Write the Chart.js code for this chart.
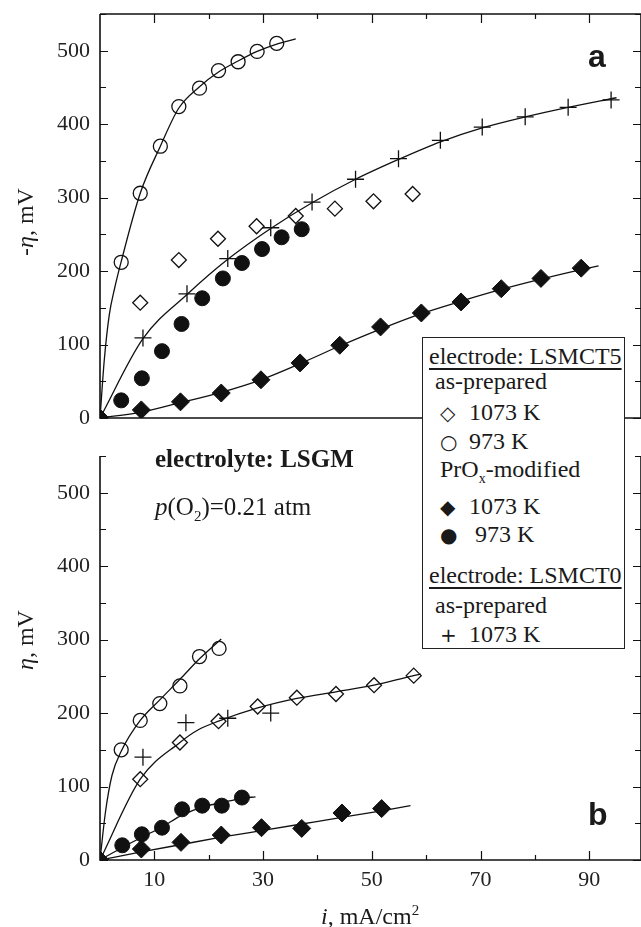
<!DOCTYPE html>
<html>
<head>
<meta charset="utf-8">
<script src="https://cdn.jsdelivr.net/npm/chart.js@4.4.0/dist/chart.umd.min.js"></script>
<style>
  body { margin: 0; background: #fff; }
  #page { position: relative; width: 641px; height: 927px; overflow: hidden; font-family: "Liberation Serif", "Times New Roman", serif; color: #1a1a1a; }
  canvas { position: absolute; left: 0; }
  .t { position: absolute; white-space: nowrap; line-height: 1; font-size: 24px; }
  .sym { font-family: "DejaVu Sans", sans-serif; font-size: 20px; display: inline-block; width: 29px; }
  .u { text-decoration: underline; text-decoration-thickness: 2px; text-underline-offset: 4px; }
  .lbl { position: absolute; font-family: "Liberation Sans", Arial, sans-serif; font-weight: bold; font-size: 32px; line-height: 1; }
  .ytitle { position: absolute; white-space: nowrap; font-size: 24px; line-height: 1; transform: translate(-50%, -50%) rotate(-90deg); }
  #legend { position: absolute; left: 422px; top: 337px; width: 203px; height: 312px; box-sizing: border-box; border: 1.5px solid #222; background: #fff; }
</style>
</head>
<body>
<div id="page">
  <canvas id="chartA" width="641" height="440" style="top:0"></canvas>
  <canvas id="chartB" width="641" height="487" style="top:440px"></canvas>

  <div class="lbl" style="left:588px; top:40px">a</div>
  <div class="lbl" style="left:588px; top:798px">b</div>

  <div class="ytitle" style="left:25px; top:222px">-<i>η</i>, mV</div>
  <div class="ytitle" style="left:25px; top:640px"><i>η</i>, mV</div>
  <div class="t" style="left:321px; top:903px"><i>i</i>, mA/cm<sup style="font-size:15px">2</sup></div>

  <div class="t" style="left:155px; top:446px; font-size:25px; font-weight:bold">electrolyte: LSGM</div>
  <div class="t" style="left:155px; top:494px; font-size:25px"><i>p</i>(O<sub style="font-size:15px">2</sub>)=0.21 atm</div>

  <div id="legend"></div>
  <div class="t u" style="left:429px; top:344px">electrode: LSMCT5</div>
  <div class="t" style="left:435px; top:369px">as-prepared</div>
  <div class="t" style="left:440px; top:400px"><span class="sym">◇</span>1073 K</div>
  <div class="t" style="left:440px; top:429px"><span class="sym">○</span>973 K</div>
  <div class="t" style="left:440px; top:457px">PrO<sub style="font-size:14px">x</sub>-modified</div>
  <div class="t" style="left:440px; top:494px"><span class="sym">◆</span>1073 K</div>
  <div class="t" style="left:440px; top:522px"><span class="sym" style="width:35px">●</span>973 K</div>
  <div class="t u" style="left:429px; top:563px">electrode: LSMCT0</div>
  <div class="t" style="left:435px; top:593px">as-prepared</div>
  <div class="t" style="left:440px; top:622px"><span class="sym">+</span>1073 K</div>
</div>

<script>
// axis ticks
const xTicks = [10, 30, 50, 70, 90];
const xMinorTicks = [20, 40, 60, 80];
const yTicks = [0, 100, 200, 300, 400, 500];
const yMinorTicks = [50, 150, 250, 350, 450, 550];

// panel a (cathodic), LSMCT5 as-prepared
const aOpenDiaX = [7.4, 14.5, 21.7, 28.8, 36.0, 43.2, 50.3, 57.5];
const aOpenDiaY = [157, 215, 244, 261, 275, 285, 295, 305];
const aOpenCirX = [3.9, 7.4, 11.1, 14.5, 18.3, 21.8, 25.4, 28.9, 32.5];
const aOpenCirY = [212, 306, 370, 424, 449, 473, 485, 499, 510];
// LSMCT5 PrOx-modified
const aFillDiaX = [0, 7.6, 14.8, 22.3, 29.6, 36.8, 44.1, 51.6, 59.1, 66.4, 73.8, 81.1, 88.5];
const aFillDiaY = [0, 11, 22, 34, 52, 75, 99, 124, 143, 158, 176, 190, 204];
const aFillCirX = [3.9, 7.7, 11.4, 15.0, 18.8, 22.6, 26.1, 29.8, 33.4, 37.1];
const aFillCirY = [24, 54, 91, 128, 163, 190, 211, 230, 246, 257];
// LSMCT0 as-prepared
const aCrossX = [7.9, 16.0, 23.5, 31.4, 39.0, 47.0, 54.9, 62.6, 70.3, 78.2, 86.1, 94.0];
const aCrossY = [109, 169, 217, 259, 294, 325, 353, 378, 396, 410, 423, 433];
// fitted curves, panel a
const aFitCirX = [0, 0.8, 1.7, 2.7, 3.9, 7.4, 11.1, 14.5, 18.3, 21.8, 25.4, 28.9, 32.5, 36.0];
const aFitCirY = [0, 80, 140, 177, 213, 306, 370, 422, 451, 471, 486, 499, 509, 516];
const aFitCrossX = [0, 7.9, 16.0, 23.5, 31.4, 39.0, 47.0, 54.9, 62.6, 70.3, 78.2, 86.1, 95.0];
const aFitCrossY = [0, 108, 168, 216, 258, 293, 325, 352, 376, 395, 410, 423, 436];
const aFitDiaX = [0, 7.6, 14.8, 22.3, 29.6, 36.8, 44.1, 51.6, 59.1, 66.4, 73.8, 81.1, 88.5, 91.7];
const aFitDiaY = [0, 8, 21, 35, 52, 74, 98, 121, 142, 159, 175, 189, 202, 207];

// panel b (anodic)
const bOpenDiaX = [7.4, 14.7, 21.8, 29.0, 36.2, 43.4, 50.4, 57.7];
const bOpenDiaY = [110, 160, 189, 209, 221, 226, 238, 251];
const bOpenCirX = [3.9, 7.4, 11.0, 14.7, 18.3, 21.9];
const bOpenCirY = [150, 190, 213, 237, 277, 288];
const bFillDiaX = [0, 7.6, 14.9, 22.3, 29.7, 37.1, 44.5, 51.8];
const bFillDiaY = [0, 15, 24, 34, 44, 43, 64, 70];
const bFillCirX = [4.1, 7.7, 11.4, 15.1, 18.8, 22.4, 26.1];
const bFillCirY = [20, 35, 44, 69, 74, 74, 85];
const bCrossX = [7.9, 15.8, 23.5, 31.4];
const bCrossY = [140, 187, 193, 200];
// fitted curves, panel b
const bFitCirX = [0, 1.0, 2.2, 3.9, 7.4, 11.0, 14.7, 18.3, 22.3];
const bFitCirY = [0, 65, 115, 148, 190, 218, 246, 274, 301];
const bFitDiaX = [0, 7.4, 14.7, 18.0, 21.8, 29.0, 36.2, 43.4, 50.4, 57.7, 59.0];
const bFitDiaY = [0, 110, 160, 177, 189, 207, 220, 229, 238, 251, 253];
const bFitFCirX = [0, 4.1, 7.7, 11.4, 15.1, 18.8, 22.4, 26.1, 28.6];
const bFitFCirY = [0, 17, 31, 45, 61, 72, 78, 84, 86];
const bFitFDiaX = [0, 7.6, 14.9, 22.3, 29.7, 37.1, 44.5, 51.8, 57.1];
const bFitFDiaY = [0, 11, 21, 31, 40, 49, 58, 67, 74];

const ink = "#111";
const tickFont = { family: "Liberation Serif", size: 22 };

function pts(xs, ys) {
  return xs.map((x, i) => ({ x: x, y: ys[i] }));
}

function openDia(xs, ys) {
  return { data: pts(xs, ys), pointStyle: "rectRot", pointRadius: 7.5, backgroundColor: "rgba(0,0,0,0)", borderColor: ink, borderWidth: 1.3, order: 1 };
}
function openCir(xs, ys) {
  return { data: pts(xs, ys), pointStyle: "circle", pointRadius: 7, backgroundColor: "rgba(0,0,0,0)", borderColor: ink, borderWidth: 1.3, order: 1 };
}
function fillDia(xs, ys) {
  return { data: pts(xs, ys), pointStyle: "rectRot", pointRadius: 9, backgroundColor: ink, borderColor: ink, borderWidth: 1, order: 1 };
}
function fillCir(xs, ys) {
  return { data: pts(xs, ys), pointStyle: "circle", pointRadius: 7.5, backgroundColor: ink, borderColor: ink, borderWidth: 1, order: 1 };
}
function cross(xs, ys) {
  return { data: pts(xs, ys), pointStyle: "cross", pointRadius: 8.5, borderColor: ink, borderWidth: 1.3, order: 1 };
}
function fit(xs, ys) {
  return { data: pts(xs, ys), showLine: true, pointRadius: 0, borderColor: ink, borderWidth: 1.3, cubicInterpolationMode: "monotone", order: 2 };
}

// axis lines with inward ticks; panel a has a closed top, panel b an open top
const framePlugin = {
  id: "frame",
  afterDraw(chart, args, opts) {
    const ctx = chart.ctx;
    const a = chart.chartArea;
    const sx = chart.scales.x;
    const sy = chart.scales.y;
    ctx.save();
    ctx.strokeStyle = ink;
    ctx.lineWidth = 1.6;
    ctx.beginPath();
    ctx.moveTo(a.left, a.top); ctx.lineTo(a.left, a.bottom); ctx.lineTo(a.right, a.bottom);
    ctx.moveTo(a.right, a.top); ctx.lineTo(a.right, a.bottom);
    if (opts.top) { ctx.moveTo(a.left, a.top); ctx.lineTo(a.right, a.top); }
    ctx.stroke();
    ctx.lineWidth = 1.2;
    ctx.beginPath();
    const xt = (v, len) => {
      const x = Math.round(sx.getPixelForValue(v)) + 0.5;
      if (opts.bottomTicks) { ctx.moveTo(x, a.bottom); ctx.lineTo(x, a.bottom - len); }
      if (opts.top) { ctx.moveTo(x, a.top); ctx.lineTo(x, a.top + len); }
    };
    const yt = (v, len) => {
      const y = Math.round(sy.getPixelForValue(v)) + 0.5;
      ctx.moveTo(a.left, y); ctx.lineTo(a.left + len, y);
      ctx.moveTo(a.right, y); ctx.lineTo(a.right - len, y);
    };
    xTicks.forEach(v => xt(v, 9));
    xMinorTicks.forEach(v => xt(v, 5));
    yTicks.forEach(v => yt(v, 8));
    yMinorTicks.forEach(v => yt(v, 6));
    ctx.stroke();
    ctx.restore();
  }
};

function makeOptions(showX) {
  return {
    responsive: false,
    animation: false,
    layout: {
      autoPadding: false,
      padding: showX ? { top: 16, right: 0, bottom: 0, left: 0 } : { top: 14, right: 0, bottom: 22, left: 0 }
    },
    plugins: {
      legend: { display: false },
      tooltip: { enabled: false },
      frame: { top: !showX, bottomTicks: showX }
    },
    scales: {
      x: {
        type: "linear",
        min: 0,
        max: 99.5,
        display: showX,
        afterBuildTicks: s => { s.ticks = xTicks.map(v => ({ value: v })); },
        afterFit: s => {
          if (showX) s.height = 67;
          s.paddingLeft = 0; s.paddingRight = 0;
        },
        grid: { display: false, drawTicks: false },
        border: { display: false },
        ticks: { font: tickFont, color: "#222", padding: 7, maxRotation: 0 }
      },
      y: {
        type: "linear",
        min: 0,
        max: 550,
        afterBuildTicks: s => { s.ticks = yTicks.map(v => ({ value: v })); },
        afterFit: s => {
          s.width = 100;
          s.paddingTop = 0; s.paddingBottom = 0;
        },
        grid: { display: false, drawTicks: false },
        border: { display: false },
        ticks: { font: tickFont, color: "#222", padding: 10 }
      }
    }
  };
}

new Chart(document.getElementById("chartA"), {
  type: "scatter",
  data: {
    datasets: [
      openDia(aOpenDiaX, aOpenDiaY),
      openCir(aOpenCirX, aOpenCirY),
      fillDia(aFillDiaX, aFillDiaY),
      fillCir(aFillCirX, aFillCirY),
      cross(aCrossX, aCrossY),
      fit(aFitCirX, aFitCirY),
      fit(aFitCrossX, aFitCrossY),
      fit(aFitDiaX, aFitDiaY)
    ]
  },
  options: makeOptions(false),
  plugins: [framePlugin]
});

new Chart(document.getElementById("chartB"), {
  type: "scatter",
  data: {
    datasets: [
      openDia(bOpenDiaX, bOpenDiaY),
      openCir(bOpenCirX, bOpenCirY),
      fillDia(bFillDiaX, bFillDiaY),
      fillCir(bFillCirX, bFillCirY),
      cross(bCrossX, bCrossY),
      fit(bFitCirX, bFitCirY),
      fit(bFitDiaX, bFitDiaY),
      fit(bFitFCirX, bFitFCirY),
      fit(bFitFDiaX, bFitFDiaY)
    ]
  },
  options: makeOptions(true),
  plugins: [framePlugin]
});
</script>
</body>
</html>
